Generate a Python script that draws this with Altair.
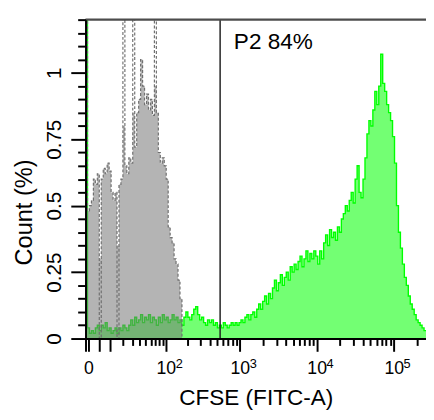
import altair as alt
import numpy as np
import pandas as pd

# ---- data ----
SYMLOG_C = 11
X_MIN, X_MAX = -1, 262144
N_BINS = 173

green_counts = [
    1.5, 0.04, 0.02, 0.03, 0.02, 0.04, 0.05, 0.03, 0.05, 0.04,
    0.06, 0.03, 0.04, 0.02, 0.03, 0.04, 0.02, 0.04, 0.03, 0.05,
    0.04, 0.03, 0.05, 0.07, 0.05, 0.08, 0.06, 0.07, 0.09, 0.06,
    0.08, 0.07, 0.09, 0.06, 0.08, 0.07, 0.05, 0.08, 0.06, 0.09,
    0.07, 0.08, 0.06, 0.07, 0.09, 0.07, 0.08, 0.06, 0.07, 0.05,
    0.08, 0.10, 0.08, 0.07, 0.09, 0.11, 0.12, 0.09, 0.07, 0.08,
    0.06, 0.05, 0.07, 0.06, 0.07, 0.05, 0.06, 0.04, 0.05, 0.04,
    0.06, 0.05, 0.04, 0.05, 0.06, 0.05, 0.06, 0.05, 0.06, 0.07,
    0.06, 0.08, 0.09, 0.07, 0.09, 0.10, 0.08, 0.11, 0.13, 0.11,
    0.14, 0.16, 0.13, 0.17, 0.15, 0.19, 0.22, 0.18, 0.21, 0.24,
    0.20, 0.23, 0.25, 0.22, 0.27, 0.25, 0.28, 0.26, 0.29, 0.31,
    0.27, 0.30, 0.33, 0.29, 0.32, 0.30, 0.33, 0.31, 0.28, 0.33,
    0.30, 0.36, 0.39, 0.35, 0.41, 0.38, 0.40, 0.37, 0.42, 0.40,
    0.45, 0.47, 0.50, 0.48, 0.52, 0.55, 0.51, 0.60, 0.65, 0.55,
    0.53, 0.60, 0.68, 0.77, 0.82, 0.80, 0.86, 0.93, 0.88, 0.95,
    1.07, 0.96, 0.93, 0.88, 0.85, 0.82, 0.76, 0.66, 0.50, 0.40,
    0.34, 0.28, 0.23, 0.20, 0.16, 0.13, 0.11, 0.09, 0.07, 0.06,
    0.05, 0.04, 0.03,
]

# filled gray histogram
gray_fill = [
    0.55, 0.48, 0.50, 0.52, 0.60, 0.58, 0.62, 0.30, 0.60, 0.64,
    0.62, 0.66, 0.63, 0.55, 0.52, 0.55, 0.35, 0.58, 0.60, 0.80,
    0.65, 0.62, 0.68, 0.66, 0.85, 0.72, 0.85, 0.90, 1.05, 0.95,
    0.88, 0.92, 0.86, 0.90, 0.84, 0.95, 0.85, 0.70, 0.66, 0.68,
    0.65, 0.60, 0.42, 0.38, 0.36, 0.30, 0.28, 0.22, 0.15, 0.0,
]
# dashed gray outline (same sample, raw channel peaks)
gray_outline = [
    1.5, 0.48, 0.50, 0.52, 0.60, 0.58, 0.62, 0.0, 0.60, 0.64,
    0.62, 0.66, 0.63, 0.55, 0.52, 0.55, 0.0, 0.58, 0.60, 1.25,
    0.65, 0.62, 0.68, 0.66, 1.25, 0.72, 0.85, 0.90, 1.05, 0.95,
    0.88, 0.92, 0.86, 0.90, 0.84, 1.25, 0.85, 0.70, 0.66, 0.68,
    0.65, 0.60, 0.42, 0.38, 0.36, 0.30, 0.28, 0.22, 0.15, 0.0,
]
gray_fill = gray_fill + [0.0] * (N_BINS - len(gray_fill))
gray_outline = gray_outline + [0.0] * (N_BINS - len(gray_outline))

gate_value = 550
gate_label = "P2 84%"
gate_label_y = 1.09

major_x = [0, 100, 1000, 10000, 100000]
major_x_labels = ["0", "10", "10", "10", "10"]
exp_values = [100, 1000, 10000, 100000]
exp_labels = ["2", "3", "4", "5"]
long_x = [-1, 0, 4, 10, 100, 1000, 10000, 100000]
minor_x = [-1, 4, 10] + [m * 10 ** k for k in range(1, 5) for m in range(2, 10)] + [200000]

y_major = [0, 0.25, 0.5, 0.75, 1]
y_ticks = [round(0.05 * k, 2) for k in range(25)]

# ---- bins (cytometer channels, equal width in the display transform) ----
def fwd(v):
    return np.sign(v) * np.log1p(np.abs(v) / SYMLOG_C)

def inv(t):
    return np.sign(t) * SYMLOG_C * np.expm1(np.abs(t))

edges = inv(np.linspace(fwd(X_MIN), fwd(X_MAX), N_BINS + 1))

def hist_frame(counts):
    xs = list(edges[:-1]) + [edges[-1]]
    ys = list(counts) + [counts[-1]]
    return pd.DataFrame({"x": xs, "y": ys})

green_df = hist_frame(green_counts)
gray_fill_df = hist_frame(gray_fill)
gray_line_df = hist_frame(gray_outline)
gate_df = pd.DataFrame({"x": [gate_value], "y": [gate_label_y], "label": [gate_label]})
top_df = pd.DataFrame({"x": [X_MIN], "y": [1.2]})
exp_df = pd.DataFrame({"x": exp_values, "y": [0] * len(exp_values), "label": exp_labels})

FONT = "Liberation Sans"

label_expr = " : ".join(
    f"datum.value == {v} ? '{l}'" for v, l in zip(major_x, major_x_labels)
) + " : ''"

x_scale = alt.Scale(type="symlog", constant=SYMLOG_C, domain=[X_MIN, X_MAX], nice=False, zero=False)
y_scale = alt.Scale(domain=[0, 1.2], nice=False, zero=False)

x_axis = alt.Axis(
    values=sorted(set(major_x + minor_x)),
    labelExpr=label_expr,
    tickSize={"condition": {"test": f"indexof({long_x}, datum.value) >= 0", "value": 13}, "value": 7},
    tickWidth=2, tickColor="black",
    domainColor="black", domainWidth=2,
    labelFont=FONT, labelFontSize=18, labelColor="black",
    labelBaseline="alphabetic", labelPadding=23,
    labelOverlap=False, labelFlush=False, grid=False,
    titleFont=FONT, titleFontSize=23, titleFontWeight="normal", titleColor="black",
    titleBaseline="alphabetic", titleY=67,
    zindex=1,
)

y_axis = alt.Axis(
    values=y_ticks,
    format="~g",
    labelExpr=f"indexof({y_major}, datum.value) >= 0 ? datum.label : ''",
    tickSize={"condition": {"test": f"indexof({y_major}, datum.value) >= 0", "value": 15}, "value": 8},
    tickWidth=2, tickColor="black",
    domainColor="black", domainWidth=2,
    labelFont=FONT, labelFontSize=21, labelColor="black",
    labelAngle=270, labelAlign="center", labelBaseline="alphabetic", labelPadding=10,
    labelOverlap=False, labelFlush=False, grid=False,
    titleFont=FONT, titleFontSize=24, titleFontWeight="normal", titleColor="black",
    titleAngle=270, titleAlign="center", titleBaseline="alphabetic",
    titleX=-55, titleY=196,
    zindex=1,
)

X = alt.X("x:Q", scale=x_scale, axis=x_axis, title="CFSE (FITC-A)")
Y = alt.Y("y:Q", scale=y_scale, axis=y_axis, title="Count (%)")

green_area = alt.Chart(green_df).mark_area(
    interpolate="step-after", color="#00ff00", opacity=0.55, clip=True
).encode(x=X, y=Y)
green_line = alt.Chart(green_df).mark_line(
    interpolate="step-after", color="#00ff00", strokeWidth=1.4, clip=True
).encode(x=X, y=Y)
gray_area = alt.Chart(gray_fill_df).mark_area(
    interpolate="step-after", color="#777777", opacity=0.55, clip=True
).encode(x=X, y=Y)
gray_line = alt.Chart(gray_line_df).mark_line(
    interpolate="step-after", color="#707070", strokeWidth=1.2, strokeDash=[3, 2], clip=True
).encode(x=X, y=Y)

top_rule = alt.Chart(top_df).mark_rule(color="#4d4d4d", strokeWidth=2.5).encode(y=Y)
gate_rule = alt.Chart(gate_df).mark_rule(color="#222222", strokeWidth=1.5).encode(x=X)
gate_text = alt.Chart(gate_df).mark_text(
    align="left", baseline="alphabetic", dx=14, font=FONT, fontSize=23, color="black"
).encode(x=X, y=Y, text="label:N")
exp_text = alt.Chart(exp_df).mark_text(
    align="left", baseline="alphabetic", dx=10, dy=30, font=FONT, fontSize=13, color="black"
).encode(x=X, y=Y, text="label:N")

chart = alt.layer(
    green_area, green_line, gray_area, gray_line, gate_rule, top_rule, gate_text, exp_text
).properties(
    width=347, height=325,
    autosize=alt.AutoSizeParams(type="none"),
    padding={"left": 79, "top": 8, "right": 0, "bottom": 71},
    background="white",
).configure_view(stroke=None)

chart.save("out.html", embed_options={"renderer": "svg", "actions": False})
